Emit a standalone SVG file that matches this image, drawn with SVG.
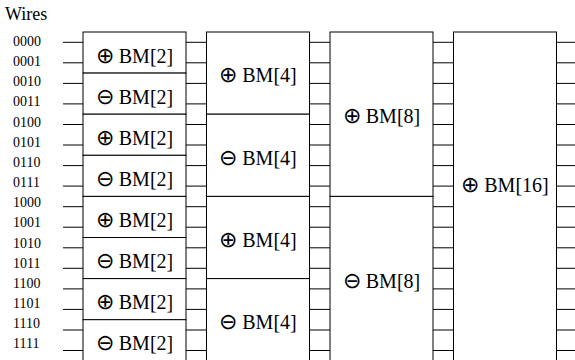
<svg xmlns="http://www.w3.org/2000/svg" width="575" height="360" viewBox="0 0 575 360">
<style>
.box{fill:#fff;stroke:#000;stroke-width:1}
.w{stroke:#000;stroke-width:1;fill:none}
.lbl{font-family:"Liberation Serif","Times New Roman",serif;font-size:14px;fill:#000}
.t{font-family:"Liberation Serif","Times New Roman",serif;font-size:20px;fill:#000;text-anchor:middle}
.sym{font-family:"DejaVu Sans ExtraLight","DejaVu Sans",sans-serif;font-weight:200;font-size:22px}
.title{font-family:"Liberation Serif","Times New Roman",serif;font-size:18px;fill:#000}
</style>
<rect width="575" height="360" fill="#fff"/>
<text class="title" x="5" y="20">Wires</text>
<g id="labels">
<text class="lbl" x="13" y="46">0000</text>
<text class="lbl" x="13" y="66.15">0001</text>
<text class="lbl" x="13" y="86.3">0010</text>
<text class="lbl" x="13" y="106.45">0011</text>
<text class="lbl" x="13" y="126.6">0100</text>
<text class="lbl" x="13" y="146.75">0101</text>
<text class="lbl" x="13" y="166.9">0110</text>
<text class="lbl" x="13" y="187.05">0111</text>
<text class="lbl" x="13" y="207.2">1000</text>
<text class="lbl" x="13" y="227.35">1001</text>
<text class="lbl" x="13" y="247.5">1010</text>
<text class="lbl" x="13" y="267.65">1011</text>
<text class="lbl" x="13" y="287.8">1100</text>
<text class="lbl" x="13" y="307.95">1101</text>
<text class="lbl" x="13" y="328.1">1110</text>
<text class="lbl" x="13" y="348.25">1111</text>
</g>
<g id="connectors" class="w">
<path d="M63 42.3H83M186 42.3H206.5M309.5 42.3H330M433 42.3H453.5M556.5 42.3H575"/>
<path d="M63 62.8H83M186 62.8H206.5M309.5 62.8H330M433 62.8H453.5M556.5 62.8H575"/>
<path d="M63 83.4H83M186 83.4H206.5M309.5 83.4H330M433 83.4H453.5M556.5 83.4H575"/>
<path d="M63 103.9H83M186 103.9H206.5M309.5 103.9H330M433 103.9H453.5M556.5 103.9H575"/>
<path d="M63 124.5H83M186 124.5H206.5M309.5 124.5H330M433 124.5H453.5M556.5 124.5H575"/>
<path d="M63 145H83M186 145H206.5M309.5 145H330M433 145H453.5M556.5 145H575"/>
<path d="M63 165.6H83M186 165.6H206.5M309.5 165.6H330M433 165.6H453.5M556.5 165.6H575"/>
<path d="M63 186.1H83M186 186.1H206.5M309.5 186.1H330M433 186.1H453.5M556.5 186.1H575"/>
<path d="M63 206.7H83M186 206.7H206.5M309.5 206.7H330M433 206.7H453.5M556.5 206.7H575"/>
<path d="M63 227.2H83M186 227.2H206.5M309.5 227.2H330M433 227.2H453.5M556.5 227.2H575"/>
<path d="M63 247.8H83M186 247.8H206.5M309.5 247.8H330M433 247.8H453.5M556.5 247.8H575"/>
<path d="M63 268.3H83M186 268.3H206.5M309.5 268.3H330M433 268.3H453.5M556.5 268.3H575"/>
<path d="M63 288.9H83M186 288.9H206.5M309.5 288.9H330M433 288.9H453.5M556.5 288.9H575"/>
<path d="M63 309.4H83M186 309.4H206.5M309.5 309.4H330M433 309.4H453.5M556.5 309.4H575"/>
<path d="M63 330H83M186 330H206.5M309.5 330H330M433 330H453.5M556.5 330H575"/>
<path d="M63 350.5H83M186 350.5H206.5M309.5 350.5H330M433 350.5H453.5M556.5 350.5H575"/>
</g>
<g id="bm2-0"><rect class="box" x="83" y="32" width="103" height="41.1"/><text class="t" x="134.5" y="62.5"><tspan class="sym">⊕</tspan> BM[2]</text></g>
<g id="bm2-1"><rect class="box" x="83" y="73.1" width="103" height="41.1"/><text class="t" x="134.5" y="103.6"><tspan class="sym">⊖</tspan> BM[2]</text></g>
<g id="bm2-2"><rect class="box" x="83" y="114.2" width="103" height="41.1"/><text class="t" x="134.5" y="144.7"><tspan class="sym">⊕</tspan> BM[2]</text></g>
<g id="bm2-3"><rect class="box" x="83" y="155.3" width="103" height="41.1"/><text class="t" x="134.5" y="185.8"><tspan class="sym">⊖</tspan> BM[2]</text></g>
<g id="bm2-4"><rect class="box" x="83" y="196.4" width="103" height="41.1"/><text class="t" x="134.5" y="226.9"><tspan class="sym">⊕</tspan> BM[2]</text></g>
<g id="bm2-5"><rect class="box" x="83" y="237.5" width="103" height="41.1"/><text class="t" x="134.5" y="268"><tspan class="sym">⊖</tspan> BM[2]</text></g>
<g id="bm2-6"><rect class="box" x="83" y="278.6" width="103" height="41.1"/><text class="t" x="134.5" y="309.1"><tspan class="sym">⊕</tspan> BM[2]</text></g>
<g id="bm2-7"><rect class="box" x="83" y="319.7" width="103" height="42"/><text class="t" x="134.5" y="350.2"><tspan class="sym">⊖</tspan> BM[2]</text></g>
<g id="bm4-0"><rect class="box" x="206.5" y="32" width="103" height="82.2"/><text class="t" x="258" y="82.4"><tspan class="sym">⊕</tspan> BM[4]</text></g>
<g id="bm4-1"><rect class="box" x="206.5" y="114.2" width="103" height="82.2"/><text class="t" x="258" y="164.6"><tspan class="sym">⊖</tspan> BM[4]</text></g>
<g id="bm4-2"><rect class="box" x="206.5" y="196.4" width="103" height="82.2"/><text class="t" x="258" y="246.8"><tspan class="sym">⊕</tspan> BM[4]</text></g>
<g id="bm4-3"><rect class="box" x="206.5" y="278.6" width="103" height="83"/><text class="t" x="258" y="329"><tspan class="sym">⊖</tspan> BM[4]</text></g>
<g id="bm8-0"><rect class="box" x="330" y="32" width="103" height="164.4"/><text class="t" x="381.5" y="123.4"><tspan class="sym">⊕</tspan> BM[8]</text></g>
<g id="bm8-1"><rect class="box" x="330" y="196.4" width="103" height="165"/><text class="t" x="381.5" y="287.6"><tspan class="sym">⊖</tspan> BM[8]</text></g>
<g id="bm16-0"><rect class="box" x="453.5" y="32" width="103" height="330"/><text class="t" x="505" y="192"><tspan class="sym">⊕</tspan> BM[16]</text></g>
</svg>
